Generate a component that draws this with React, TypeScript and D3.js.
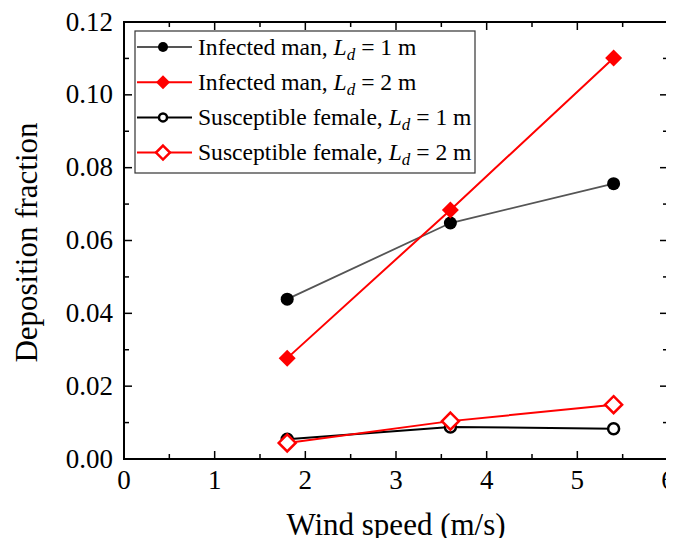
import React, { useEffect, useRef } from 'react';
import * as d3 from 'd3';

// wind speed (m/s)
const windSpeed = [1.8, 3.6, 5.4];

const infectedMan1 = [0.0439, 0.0648, 0.0756];
const infectedMan2 = [0.0277, 0.0684, 0.1101];
const susceptibleFemale1 = [0.0054, 0.0088, 0.0083];
const susceptibleFemale2 = [0.0044, 0.0104, 0.0149];

const xTicks = [0, 1, 2, 3, 4, 5, 6];
const yTicks = [0, 0.02, 0.04, 0.06, 0.08, 0.1, 0.12];

const seriesList = [
  { name: 'Infected man, ', ld: '1', values: infectedMan1, line: '#555555', marker: 'circle', fill: '#000000', stroke: '#000000' },
  { name: 'Infected man, ', ld: '2', values: infectedMan2, line: '#ff0000', marker: 'diamond', fill: '#ff0000', stroke: '#ff0000' },
  { name: 'Susceptible female, ', ld: '1', values: susceptibleFemale1, line: '#000000', marker: 'circle', fill: '#ffffff', stroke: '#000000' },
  { name: 'Susceptible female, ', ld: '2', values: susceptibleFemale2, line: '#ff0000', marker: 'diamond', fill: '#ffffff', stroke: '#ff0000' },
];

const W = 674;
const H = 546;
const margin = { top: 22, right: 6, bottom: 87, left: 124 };
const font = 'Liberation Serif, DejaVu Serif, serif';

export default function App() {
  const ref = useRef<SVGSVGElement>(null);

  useEffect(() => {
    const svg = d3.select(ref.current);
    svg.selectAll('*').remove();

    const iw = W - margin.left - margin.right;
    const ih = H - margin.top - margin.bottom;
    const x = d3.scaleLinear().domain([0, 6]).range([margin.left, margin.left + iw]);
    const y = d3.scaleLinear().domain([0, 0.12]).range([margin.top + ih, margin.top]);

    svg.append('rect').attr('width', W).attr('height', H).attr('fill', '#fff');

    // ticks, inward, on all four sides
    const g = svg.append('g').attr('stroke', '#000').attr('stroke-width', 1.5);
    const xMinor = d3.range(0.5, 6, 1);
    const yMinor = d3.range(0.01, 0.12, 0.02);
    xTicks.forEach(t => {
      g.append('line').attr('x1', x(t)).attr('x2', x(t)).attr('y1', y(0)).attr('y2', y(0) - 8);
      g.append('line').attr('x1', x(t)).attr('x2', x(t)).attr('y1', y(0.12)).attr('y2', y(0.12) + 8);
    });
    xMinor.forEach(t => {
      g.append('line').attr('x1', x(t)).attr('x2', x(t)).attr('y1', y(0)).attr('y2', y(0) - 5);
      g.append('line').attr('x1', x(t)).attr('x2', x(t)).attr('y1', y(0.12)).attr('y2', y(0.12) + 5);
    });
    yTicks.forEach(t => {
      g.append('line').attr('x1', x(0)).attr('x2', x(0) + 8).attr('y1', y(t)).attr('y2', y(t));
      g.append('line').attr('x1', x(6)).attr('x2', x(6) - 8).attr('y1', y(t)).attr('y2', y(t));
    });
    yMinor.forEach(t => {
      g.append('line').attr('x1', x(0)).attr('x2', x(0) + 5).attr('y1', y(t)).attr('y2', y(t));
      g.append('line').attr('x1', x(6)).attr('x2', x(6) - 5).attr('y1', y(t)).attr('y2', y(t));
    });

    svg.append('rect')
      .attr('x', x(0)).attr('y', y(0.12))
      .attr('width', iw).attr('height', ih)
      .attr('fill', 'none').attr('stroke', '#000').attr('stroke-width', 2);

    // tick labels
    svg.selectAll('.xl').data(xTicks).join('text')
      .attr('x', d => x(d)).attr('y', y(0) + 30)
      .attr('text-anchor', 'middle')
      .style('font-family', font).attr('font-size', 27)
      .text(d => d);
    svg.selectAll('.yl').data(yTicks).join('text')
      .attr('x', x(0) - 11).attr('y', d => y(d) + 8.5)
      .attr('text-anchor', 'end')
      .style('font-family', font).attr('font-size', 27)
      .text(d => d3.format('.2f')(d));

    svg.append('text')
      .attr('x', x(3)).attr('y', 535)
      .attr('text-anchor', 'middle')
      .style('font-family', font).attr('font-size', 31)
      .text('Wind speed (m/s)');
    svg.append('text')
      .attr('transform', `translate(37,${y(0.06) + 2}) rotate(-90)`)
      .attr('text-anchor', 'middle')
      .style('font-family', font).attr('font-size', 31)
      .text('Deposition fraction');

    const drawMarker = (sel: any, s: any, cx: number, cy: number, size: number) => {
      const open = s.fill === '#ffffff';
      if (s.marker === 'circle') {
        sel.append('circle').attr('cx', cx).attr('cy', cy)
          .attr('r', open ? size - 1 : size)
          .attr('fill', s.fill).attr('stroke', s.stroke).attr('stroke-width', open ? 2.5 : 0);
      } else {
        const d = size + 2;
        sel.append('path')
          .attr('d', `M${cx},${cy - d}L${cx + d},${cy}L${cx},${cy + d}L${cx - d},${cy}Z`)
          .attr('fill', s.fill).attr('stroke', s.stroke).attr('stroke-width', open ? 2.5 : 0);
      }
    };

    const lineGen = d3.line<number>().x((_, i) => x(windSpeed[i])).y(d => y(d));
    seriesList.forEach(s => {
      const sg = svg.append('g');
      sg.append('path').attr('d', lineGen(s.values)).attr('fill', 'none')
        .attr('stroke', s.line).attr('stroke-width', s.line === '#555555' ? 1.8 : 2);
      s.values.forEach((v, i) => drawMarker(sg, s, x(windSpeed[i]), y(v), 6.5));
    });

    // legend
    const lg = svg.append('g');
    lg.append('rect').attr('x', 135).attr('y', 31).attr('width', 340).attr('height', 142)
      .attr('fill', '#fff').attr('stroke', '#333').attr('stroke-width', 1.2);
    seriesList.forEach((s, i) => {
      const ly = 47 + i * 35.2;
      lg.append('line').attr('x1', 137).attr('x2', 192).attr('y1', ly).attr('y2', ly)
        .attr('stroke', s.line).attr('stroke-width', s.line === '#555555' ? 1.8 : 2);
      drawMarker(lg, s, 163, ly, 5);
      const t = lg.append('text').attr('x', 198).attr('y', ly + 7.5)
        .style('font-family', font).attr('font-size', 23.6);
      t.append('tspan').text(s.name);
      t.append('tspan').attr('font-style', 'italic').text('L');
      t.append('tspan').attr('font-style', 'italic').attr('font-size', 17).attr('dy', 5).text('d');
      t.append('tspan').attr('dy', -5).text(` = ${s.ld} m`);
    });
  }, []);

  return <svg ref={ref} width={W} height={H} style={{ display: 'block', margin: '-8px' }} />;
}
